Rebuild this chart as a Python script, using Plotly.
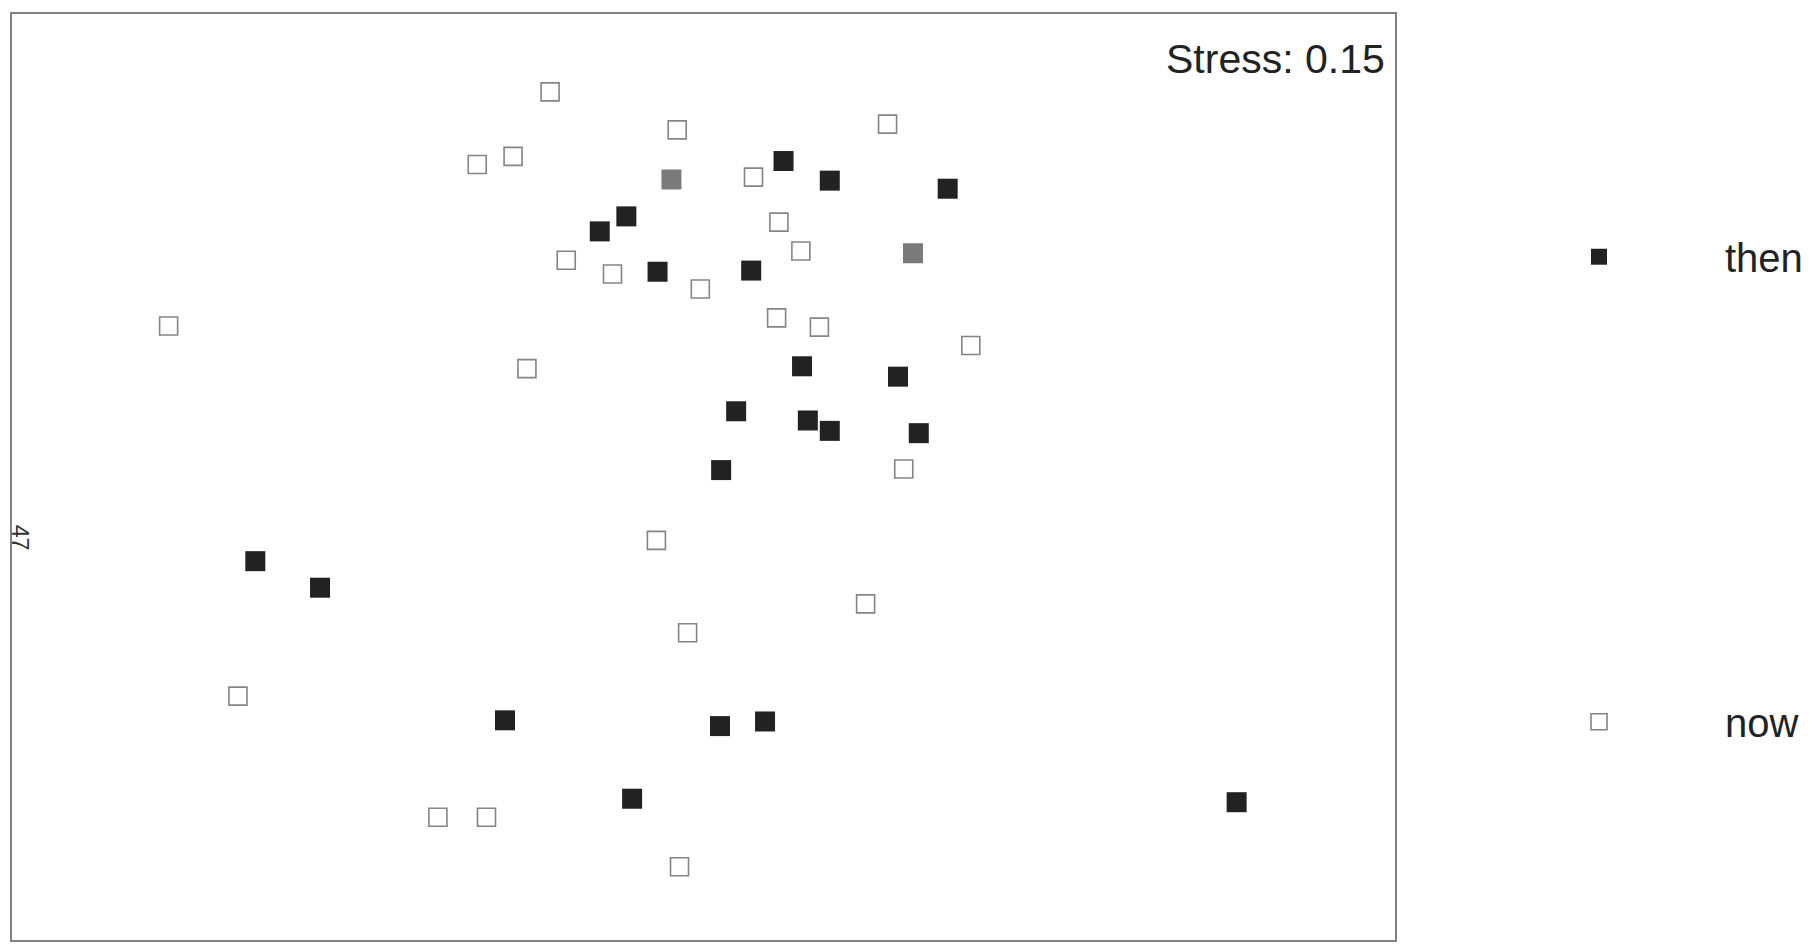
import plotly.graph_objects as go

# NMDS ordination scores
now_x = [-0.264, -0.044, 0.320, -0.390, -0.328, 0.088, 0.132, 0.170, -0.236, -0.156,
         -0.004, -0.924, 0.128, 0.202, 0.464, -0.304, 0.348, -0.080, 0.282, -0.026,
         -0.804, -0.458, -0.374, -0.040]
now_y = [0.670, 0.604, 0.614, 0.544, 0.558, 0.522, 0.444, 0.394, 0.378, 0.354,
         0.328, 0.264, 0.278, 0.262, 0.230, 0.190, 0.016, -0.108, -0.218, -0.268,
         -0.378, -0.588, -0.588, -0.674]

then_x = [0.140, 0.220, 0.424, -0.132, -0.178, -0.078, 0.084, 0.172, 0.338, 0.058,
          0.182, 0.220, 0.374, 0.032, -0.774, -0.662, -0.342, 0.030, 0.108, -0.122,
          0.924]
then_y = [0.550, 0.516, 0.502, 0.454, 0.428, 0.358, 0.360, 0.194, 0.176, 0.116,
          0.100, 0.082, 0.078, 0.014, -0.144, -0.190, -0.420, -0.430, -0.422, -0.556,
          -0.562]

# two "then" samples printed in a lighter grey
grey_x = [-0.054, 0.364]
grey_y = [0.518, 0.390]

stress_label = "Stress: 0.15"
side_label = "47"
FONT = "Liberation Sans, Arial, sans-serif"

fig = go.Figure()
fig.add_trace(go.Scatter(
    x=then_x, y=then_y, mode="markers", name="then", legendgroup="then",
    marker=dict(symbol="square", size=20, color="#222222", line=dict(width=0)),
))
fig.add_trace(go.Scatter(
    x=grey_x, y=grey_y, mode="markers", name="then", legendgroup="then", showlegend=False,
    marker=dict(symbol="square", size=20, color="#7a7a7a", line=dict(width=0)),
))
fig.add_trace(go.Scatter(
    x=now_x, y=now_y, mode="markers", name="now", legendgroup="now",
    marker=dict(symbol="square", size=18, color="white", line=dict(width=1.6, color="#858585")),
))

axis_common = dict(showgrid=False, zeroline=False, showticklabels=False, ticks="",
                   showline=True, mirror=True, linecolor="#808080", linewidth=2)

fig.update_layout(
    width=1804, height=937,
    margin=dict(l=4, r=417, t=4, b=5),
    paper_bgcolor="white", plot_bgcolor="white",
    font=dict(family=FONT, color="#222222"),
    xaxis=dict(range=[-1.195, 1.198], **axis_common),
    yaxis=dict(range=[-0.801, 0.805], **axis_common),
    showlegend=True,
    legend=dict(
        x=1.0564, y=0.773, xanchor="left", yanchor="top",
        font=dict(size=40, family=FONT, color="#222222"),
        itemwidth=242, tracegroupgap=410, traceorder="grouped",
        bgcolor="rgba(0,0,0,0)",
    ),
    annotations=[
        dict(text=stress_label, xref="paper", yref="paper", x=0.9944, y=0.9515,
             xanchor="right", yanchor="middle", showarrow=False,
             font=dict(size=41, family=FONT, color="#222222")),
        dict(text=side_label, xref="paper", yref="paper", x=0.006, y=0.434,
             xanchor="center", yanchor="middle", showarrow=False, textangle=90,
             font=dict(size=23, family=FONT, color="#333333")),
    ],
)

fig.write_html("out.html")
